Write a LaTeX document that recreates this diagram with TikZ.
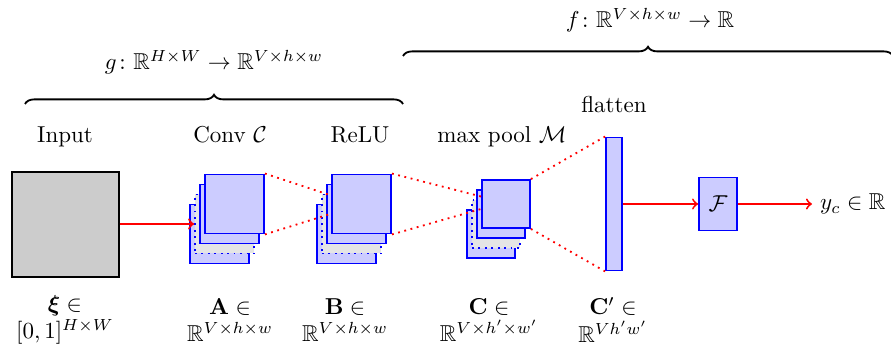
\documentclass[tikz,border=0pt]{standalone}
\usepackage{amsmath, amssymb}
\usetikzlibrary{positioning,calc,decorations.pathreplacing}

\newcommand{\pxu}{0.435pt}

\begin{document}
\begin{tikzpicture}[x=0.435pt,y=0.435pt,yscale=-1,xscale=1,
  fmap/.style={draw=blue, fill=blue!20, thick, inner sep=0pt, minimum width=#1*\pxu, minimum height=#1*\pxu},
  fmapdots/.style={fmap=#1, fill=gray!20, dotted},
  rfield/.style={red, thick, dotted},
  flow/.style={->, red, thick},
  bracetop/.style={thick, decorate, decoration={brace, amplitude=4pt}}]
\useasboundingbox (0,0) rectangle (891,354);

% Text Node
\node (fmaptxt) at (650,20) {$f\colon \mathbb{R}^{V\times h\times w}\to\mathbb{R}$};
% Text Node
\node (gmaptxt) at (214,62) {$g\colon \mathbb{R}^{H\times W}\to\mathbb{R}^{V\times h\times w}$};
% Braces
\draw [bracetop] (25,104) -- (403,104);
\draw [bracetop] (403,56) -- (893,56);

%Shape: Input image
\node (input) [draw, semithick, fill=gray!40, minimum width=107*\pxu, minimum height=105*\pxu] at (65.5,224.5) {};

%Shape: Conv stack
\node (conv4) [fmap=59] at (219.5,234) {};
\node (conv3) [fmapdots=59] at (224.5,224) {};
\node (conv2) [fmap=59] at (229.5,214) {};
\node (conv1) [fmap=59] at (234.5,204) {};
%Shape: ReLU stack
\node (relu4) [fmap=59] at (346.5,234) {};
\node (relu3) [fmapdots=59] at (351.5,224) {};
\node (relu2) [fmap=59] at (356.5,214) {};
\node (relu1) [fmap=59] at (361.5,204) {};
%Shape: max pool stack
\node (pool4) [fmap=48] at (491,234) {};
\node (pool3) [fmapdots=48] at (496,224) {};
\node (pool2) [fmap=48] at (501,214) {};
\node (pool1) [fmap=48] at (506,204) {};
%Shape: flatten bar
\node (flat) [fmap=16, minimum height=133*\pxu] at (614,204) {};
%Shape: F
\node (head) [fmap=38, minimum height=53*\pxu] at (718,204) {$\mathcal{F}$};
% Text Node
\node (out) [anchor=west] at (812,204) {$y_c\in\mathbb{R}$};

% receptive fields
\draw [rfield] (conv1.north east) -- ($(relu1.north west)!0.36!(relu1.south west)$);
\draw [rfield] (conv1.south east) -- ($(relu1.north west)!0.66!(relu1.south west)$);
\draw [rfield] (relu1.north east) -- ($(pool1.north west)!0.35!(pool1.south west)$);
\draw [rfield] (relu1.south east) -- ($(pool1.north west)!0.6!(pool1.south west)$);
\draw [rfield] (pool1.north east) -- (flat.north west);
\draw [rfield] (pool1.south east) -- (flat.south west);

% arrows
\draw [flow] (conv3.west -| input.east) -- (conv3.west);
\draw [flow] (flat.east) -- (head.west);
\draw [flow] (head.east) -- (out.west);

% Text Node
\node (inlbl) [anchor=base] at (65,143) {Input};
\node (convlbl) [anchor=base] at (230,143) {Conv $\mathcal{C}$};
\node (relulbl) [anchor=base] at (360,143) {ReLU};
\node (poollbl) [anchor=base] at (502,143) {max pool $\mathcal{M}$};
\node (flatlbl) [anchor=base] at (614,113) {flatten};

% Text Node
\node (xilbl) [align=center] at (65,320) {$\boldsymbol{\xi}\in$\\$[0,1]^{H\times W}$};
\node (albl) [align=center] at (230,320) {$\mathbf{A}\in$\\$\mathbb{R}^{V\times h\times w}$};
\node (blbl) [align=center] at (345,320) {$\mathbf{B}\in$\\$\mathbb{R}^{V\times h\times w}$};
\node (clbl) [align=center] at (489,320) {$\mathbf{C}\in$\\$\mathbb{R}^{V\times h'\times w'}$};
\node (cplbl) [align=center] at (613,320) {$\mathbf{C}'\in$\\$\mathbb{R}^{Vh'w'}$};

\end{tikzpicture}
\end{document}
